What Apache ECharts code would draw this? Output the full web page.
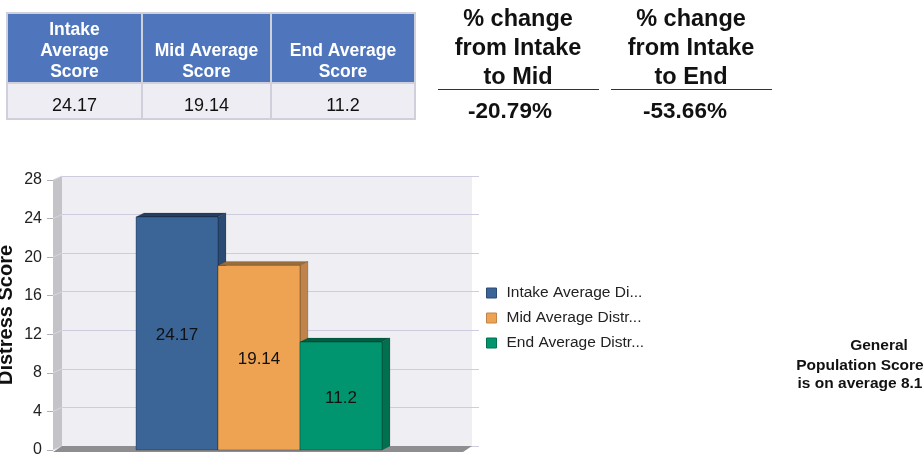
<!DOCTYPE html>
<html>
<head>
<meta charset="utf-8">
<script src="https://cdn.jsdelivr.net/npm/echarts@6/dist/echarts.min.js"></script>
<style>
  html, body { margin: 0; padding: 0; background: #fff; }
  #main { width: 924px; height: 457px; }
</style>
</head>
<body>
<div id="main"></div>
<script>
// data
var seriesNames = ['Intake Average Di...', 'Mid Average Distr...', 'End Average Distr...'];
var scores = [24.17, 19.14, 11.2];
var tableHeaders = ['Intake\nAverage\nScore', 'Mid Average\nScore', 'End Average\nScore'];
var tableValues = ['24.17', '19.14', '11.2'];
var changeHeaders = ['% change\nfrom Intake\nto Mid', '% change\nfrom Intake\nto End'];
var changeValues = ['-20.79%', '-53.66%'];
var noteLines = ['General', 'Population Score', 'is on average 8.1'];
var yMin = 0, yMax = 28, yStep = 4;

// colours: front, side, top
var frontColors = ['#3a6596', '#eea352', '#00956f'];
var sideColors = ['#2b4b74', '#c0844a', '#00704f'];
var topColors = ['#243f62', '#9a6c3a', '#005e43'];

var FONT = '"Liberation Sans", Arial, sans-serif';

// layout of the 3D plot
var gLeft = 53, gTop = 180, gW = 410, gH = 270;
var dX = 9, dY = 4;     // wall depth
var bX = 8, bY = 4;     // bar depth

var chart = echarts.init(document.getElementById('main'));

function renderBox(params, api) {
    var i = params.seriesIndex;
    var v = api.value(1);
    var base = api.coord([0, 0]);
    var top = api.coord([0, v]);
    var band = api.size([1, 0])[0];
    var barW = band * 0.6 / 3;
    var x0 = base[0] - band * 0.3 + i * barW + 1;
    var x1 = x0 + barW;
    var y0 = base[1], y1 = top[1];
    return {
        type: 'group',
        children: [
            {
                type: 'polygon',
                shape: { points: [[x1, y1], [x1 + bX, y1 - bY], [x1 + bX, y0 - bY], [x1, y0]] },
                style: { fill: sideColors[i], stroke: 'rgba(0,0,0,0.25)', lineWidth: 0.5 }
            },
            {
                type: 'polygon',
                shape: { points: [[x0, y1], [x0 + bX, y1 - bY], [x1 + bX, y1 - bY], [x1, y1]] },
                style: { fill: topColors[i], stroke: 'rgba(0,0,0,0.25)', lineWidth: 0.5 }
            },
            {
                type: 'rect',
                shape: { x: x0, y: y1, width: barW, height: y0 - y1 },
                style: { fill: frontColors[i], stroke: 'rgba(0,0,0,0.35)', lineWidth: 0.8 }
            },
            {
                type: 'text',
                x: (x0 + x1) / 2,
                y: (y0 + y1) / 2 + 2,
                style: {
                    text: String(v),
                    fill: '#111',
                    font: '17px ' + FONT,
                    align: 'center',
                    verticalAlign: 'middle'
                }
            }
        ]
    };
}

var series = scores.map(function (s, i) {
    return {
        name: seriesNames[i],
        type: 'custom',
        xAxisIndex: 0,
        yAxisIndex: 0,
        renderItem: renderBox,
        itemStyle: { color: frontColors[i] },
        encode: { x: 0, y: 1 },
        data: [[0, s]],
        z: 2
    };
});

var option = {
    animation: false,
    textStyle: { fontFamily: FONT },
    grid: [
        { left: gLeft, top: gTop, width: gW, height: gH, containLabel: false, outerBoundsMode: 'none' },
        { left: gLeft + dX, top: gTop - dY, width: gW + 7, height: gH, containLabel: false, outerBoundsMode: 'none' }
    ],
    xAxis: [
        { type: 'category', gridIndex: 0, data: [''], show: false },
        { type: 'category', gridIndex: 1, data: [''], show: false }
    ],
    yAxis: [
        {
            type: 'value', gridIndex: 0, min: yMin, max: yMax, interval: yStep,
            name: 'Distress Score',
            nameLocation: 'middle',
            nameGap: 37,
            nameTextStyle: { fontSize: 20, fontWeight: 'bold', color: '#111', fontFamily: FONT },
            axisLine: { show: false },
            axisTick: { show: true, length: 6, lineStyle: { color: '#b0b0b8' } },
            axisLabel: { fontSize: 16, color: '#222', margin: 11, fontFamily: FONT },
            splitLine: { show: false }
        },
        {
            type: 'value', gridIndex: 1, min: yMin, max: yMax, interval: yStep,
            axisLine: { show: false },
            axisTick: { show: false },
            axisLabel: { show: false },
            splitLine: { lineStyle: { color: '#cdcddf', width: 1 } }
        }
    ],
    legend: {
        orient: 'vertical',
        left: 481,
        top: 280,
        itemWidth: 10,
        itemHeight: 10,
        itemGap: 9,
        icon: 'rect',
        textStyle: { fontSize: 15.5, color: '#222', fontFamily: FONT, padding: [0, 0, 0, 5] },
        data: seriesNames.map(function (n, i) {
            return { name: n, itemStyle: { borderColor: sideColors[i], borderWidth: 1 } };
        })
    },
    series: series
};

chart.setOption(option);

// walls, table and notes
var g = [];
var yPx = function (v) { return chart.convertToPixel({ yAxisIndex: 0 }, v); };
var yTop = yPx(yMax), yBot = yPx(yMin);

g.push({
    type: 'rect', z: -1,
    shape: { x: gLeft + dX, y: yTop - dY, width: gW, height: yBot - yTop },
    style: { fill: '#eeeef3' }
});
g.push({
    type: 'polygon', z: 1,
    shape: { points: [[gLeft, yTop], [gLeft + dX, yTop - dY], [gLeft + dX, yBot - dY], [gLeft, yBot]] },
    style: { fill: '#c4c4c8' }
});
for (var t = yMin; t <= yMax; t += yStep) {
    var yy = yPx(t);
    g.push({
        type: 'line', z: 1,
        shape: { x1: gLeft, y1: yy, x2: gLeft + dX, y2: yy - dY },
        style: { stroke: '#d6d6e2', lineWidth: 1 }
    });
}
g.push({
    type: 'polygon', z: 1,
    shape: { points: [[gLeft, yBot + 2], [gLeft + dX, yBot - dY], [gLeft + gW + dX, yBot - dY], [gLeft + gW, yBot + 2]] },
    style: { fill: '#8e8e90' }
});

// table
var colX = [7, 142, 271, 415];
var headTop = 13, headBot = 83, rowBot = 119;
for (var c = 0; c < 3; c++) {
    g.push({
        type: 'rect',
        shape: { x: colX[c], y: headTop, width: colX[c + 1] - colX[c], height: headBot - headTop },
        style: { fill: '#4f76bd', stroke: '#cfd0dc', lineWidth: 2 }
    });
    g.push({
        type: 'rect',
        shape: { x: colX[c], y: headBot, width: colX[c + 1] - colX[c], height: rowBot - headBot },
        style: { fill: '#eeedf3', stroke: '#cfd0dc', lineWidth: 2 }
    });
    g.push({
        type: 'text',
        x: (colX[c] + colX[c + 1]) / 2, y: headBot,
        style: {
            text: tableHeaders[c], fill: '#fff', font: 'bold 17.5px ' + FONT,
            align: 'center', verticalAlign: 'bottom', lineHeight: 21
        }
    });
    g.push({
        type: 'text',
        x: (colX[c] + colX[c + 1]) / 2, y: 106,
        style: {
            text: tableValues[c], fill: '#111', font: '18px ' + FONT,
            align: 'center', verticalAlign: 'middle'
        }
    });
}

// % change blocks
var chgCenter = [518, 691];
var chgValX = [510, 685];
for (var k = 0; k < 2; k++) {
    g.push({
        type: 'text',
        x: chgCenter[k], y: 49,
        style: {
            text: changeHeaders[k], fill: '#111', font: 'bold 23.5px ' + FONT,
            align: 'center', verticalAlign: 'middle', lineHeight: 29
        }
    });
    g.push({
        type: 'line',
        shape: { x1: chgCenter[k] - 80, y1: 89.5, x2: chgCenter[k] + 81, y2: 89.5 },
        style: { stroke: '#333', lineWidth: 1 }
    });
    g.push({
        type: 'text',
        x: chgValX[k], y: 112,
        style: {
            text: changeValues[k], fill: '#111', font: 'bold 22.5px ' + FONT,
            align: 'center', verticalAlign: 'middle'
        }
    });
}

// note on the right
var noteX = [879, 860, 860];
var noteY = [346, 366, 384];
for (var n = 0; n < noteLines.length; n++) {
    g.push({
        type: 'text',
        x: noteX[n], y: noteY[n],
        style: {
            text: noteLines[n], fill: '#111', font: 'bold 15.5px ' + FONT,
            align: 'center', verticalAlign: 'middle'
        }
    });
}

chart.setOption({ graphic: { elements: g } });
</script>
</body>
</html>
